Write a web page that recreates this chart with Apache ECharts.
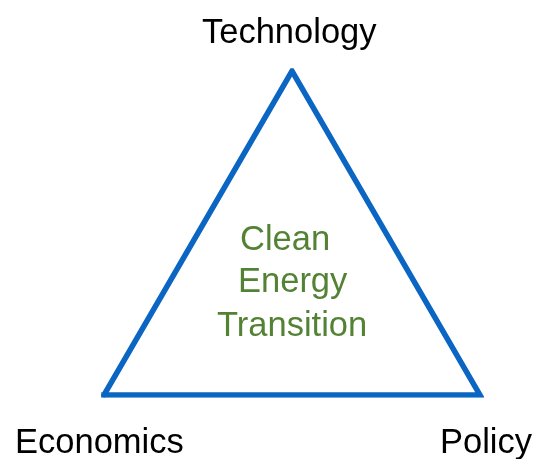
<!DOCTYPE html>
<html>
<head>
<meta charset="utf-8">
<script src="https://cdn.jsdelivr.net/npm/echarts@6/dist/echarts.min.js"></script>
<style>
  html, body { margin: 0; padding: 0; background: #fff; }
  #chart { width: 533px; height: 459px; }
</style>
</head>
<body>
<div id="chart"></div>
<script>
// vertices of the triangle (closed path), in unit coordinates
const vertexNames = ['Economics', 'Technology', 'Policy', 'Economics'];
const vertexX = [0, 0.5, 1, 0];
const vertexY = [0, 1, 0, 0];
const centerLines = ['Clean', 'Energy', 'Transition'];

const myChart = echarts.init(document.getElementById('chart'));

const FONT = '"Liberation Sans", Arial, sans-serif';

let options = {
    animation: false,
    grid: { left: 104, top: 71, width: 376, height: 324 },
    xAxis: { type: 'value', min: 0, max: 1, show: false },
    yAxis: { type: 'value', min: 0, max: 1, show: false },
    series: [
        {
            type: 'line',
            data: vertexX.map((x, i) => [x, vertexY[i]]),
            symbol: 'none',
            lineStyle: { color: '#0b65c2', width: 5.5, join: 'miter', cap: 'square' },
            silent: true
        }
    ],
    graphic: [
        { type: 'text', x: 202, y: 16,
          style: { text: vertexNames[1], font: '34.5px ' + FONT, fill: '#000' } },
        { type: 'text', x: 15, y: 426,
          style: { text: vertexNames[0], font: '34.5px ' + FONT, fill: '#000' } },
        { type: 'text', x: 440, y: 426,
          style: { text: vertexNames[2], font: '34.5px ' + FONT, fill: '#000' } },
        { type: 'text', x: 240, y: 223,
          style: { text: centerLines[0], font: '34.5px ' + FONT, fill: '#548235' } },
        { type: 'text', x: 238, y: 265,
          style: { text: centerLines[1], font: '34.5px ' + FONT, fill: '#548235' } },
        { type: 'text', x: 217, y: 309,
          style: { text: centerLines[2], font: '34.5px ' + FONT, fill: '#548235' } }
    ]
};

myChart.setOption(options);
</script>
</body>
</html>
